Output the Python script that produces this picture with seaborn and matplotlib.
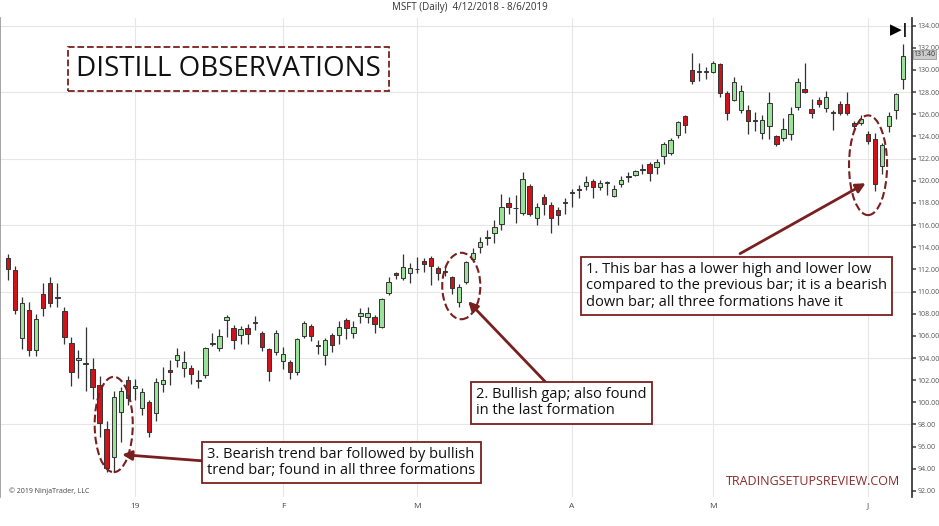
import numpy as np
import pandas as pd
import matplotlib.pyplot as plt
import seaborn as sns
from matplotlib.patches import Ellipse

# MSFT daily candles
opens = [113.0, 111.9, 105.8, 108.3, 104.7, 109.8, 110.8, 109.4, 108.2, 105.4,
         103.8, 103.5, 103.0, 101.6, 97.6, 95.1, 99.1, 102.0, 101.3, 99.5,
         100.0, 99.0, 101.7, 102.9, 103.8, 103.1, 103.1, 101.9, 102.5, 105.3,
         104.9, 107.4, 106.7, 106.1, 106.7, 107.2, 106.3, 104.8, 104.5, 103.7,
         103.6, 102.7, 106.0, 106.9, 105.1, 104.3, 106.1, 106.1, 107.4, 106.3,
         107.8, 107.7, 107.7, 106.8, 109.9, 111.7, 111.2, 111.7, 112.0, 112.8,
         113.0, 112.1, 111.8, 111.3, 109.1, 110.9, 112.9, 114.0, 114.8, 115.3,
         116.1, 118.0, 117.5, 117.1, 119.5, 116.6, 118.5, 117.8, 117.4, 118.0,
         118.9, 119.2, 119.5, 120.0, 119.4, 119.8, 118.6, 119.7, 120.4, 120.5,
         121.0, 121.5, 121.2, 122.2, 122.5, 124.1, 125.8, 130.0, 129.8, 129.8,
         129.8, 130.5, 127.9, 127.3, 126.4, 126.4, 125.4, 124.3, 124.9, 124.0,
         123.9, 124.2, 126.7, 128.3, 126.5, 127.3, 126.6, 126.1, 126.9, 126.9,
         125.2, 125.2, 124.2, 123.8, 121.3, 124.9, 126.4, 129.2]
closes = [112.0, 108.3, 109.0, 104.7, 107.5, 108.5, 109.0, 109.4, 105.9, 102.7,
          104.0, 103.5, 101.4, 98.1, 94.1, 100.5, 101.0, 100.4, 101.5, 100.9,
          97.3, 101.8, 102.0, 102.7, 104.3, 103.6, 102.6, 101.9, 104.9, 105.3,
          106.0, 107.7, 105.6, 106.6, 106.2, 107.2, 105.0, 102.8, 106.3, 104.4,
          102.7, 105.7, 107.2, 106.0, 105.1, 105.6, 105.2, 106.8, 106.7, 106.8,
          108.1, 108.1, 107.1, 109.3, 110.9, 111.5, 112.2, 112.1, 112.0, 112.5,
          112.3, 111.7, 111.8, 110.3, 110.4, 112.7, 113.5, 114.5, 114.8, 115.8,
          117.6, 117.6, 117.5, 120.2, 117.0, 117.6, 117.9, 116.6, 116.9, 118.0,
          118.9, 119.2, 119.9, 119.4, 119.8, 119.8, 119.3, 120.1, 120.3, 120.9,
          121.0, 120.7, 121.7, 123.3, 123.7, 125.3, 125.0, 129.0, 129.8, 129.8,
          130.6, 127.9, 126.1, 128.9, 128.1, 125.4, 125.4, 125.5, 127.0, 123.3,
          124.7, 126.0, 128.9, 128.0, 126.1, 126.9, 127.6, 126.1, 126.1, 126.1,
          124.9, 125.6, 123.6, 119.7, 123.2, 125.8, 127.8, 131.3]
highs = [113.4, 112.3, 109.5, 109.1, 108.0, 110.8, 111.3, 110.8, 108.6, 105.9,
         104.7, 106.8, 104.0, 102.4, 98.3, 101.0, 101.4, 102.4, 102.1, 101.3,
         100.2, 102.2, 103.2, 103.8, 104.9, 104.6, 103.4, 102.9, 105.0, 106.3,
         106.6, 107.9, 107.0, 106.9, 107.1, 107.8, 106.4, 104.9, 106.5, 105.0,
         103.8, 105.8, 107.3, 107.1, 105.6, 105.8, 106.3, 107.3, 107.6, 107.3,
         108.5, 108.6, 107.9, 109.4, 111.3, 111.8, 113.4, 112.6, 113.1, 113.0,
         113.2, 112.3, 112.3, 111.4, 110.7, 112.8, 113.9, 114.9, 115.6, 116.5,
         118.8, 118.5, 118.7, 120.8, 119.7, 118.0, 118.8, 118.1, 117.6, 118.4,
         119.3, 119.6, 120.4, 120.2, 120.1, 120.0, 119.6, 120.4, 120.8, 121.0,
         121.5, 121.7, 122.0, 123.5, 123.9, 125.4, 125.9, 131.5, 130.6, 130.3,
         130.8, 130.6, 128.1, 129.4, 128.6, 126.8, 126.2, 125.9, 128.0, 124.1,
         125.7, 126.7, 129.3, 130.6, 127.4, 127.6, 128.1, 126.4, 127.2, 128.0,
         125.4, 125.9, 124.5, 124.3, 123.4, 126.2, 127.9, 132.3]
lows = [111.0, 108.0, 104.8, 104.2, 104.2, 107.8, 108.6, 108.6, 105.3, 101.5,
        102.2, 101.0, 100.3, 96.9, 93.7, 93.7, 96.4, 99.8, 100.2, 98.9,
        96.9, 98.3, 100.9, 101.6, 103.2, 102.3, 101.7, 101.3, 102.2, 105.1,
        104.6, 105.9, 104.8, 105.3, 105.3, 106.5, 104.6, 101.9, 104.3, 103.0,
        102.1, 102.5, 105.8, 105.5, 104.4, 103.4, 104.5, 105.3, 105.7, 105.8,
        107.2, 107.2, 106.3, 106.7, 109.7, 111.1, 111.0, 110.8, 111.7, 111.8,
        110.6, 111.0, 111.4, 109.8, 108.6, 110.7, 112.7, 113.5, 114.2, 114.4,
        115.6, 117.0, 116.2, 116.9, 116.8, 116.0, 116.9, 115.3, 116.0, 117.0,
        117.6, 118.4, 119.2, 118.4, 119.2, 118.7, 118.5, 119.4, 119.9, 120.4,
        120.6, 120.0, 120.6, 121.5, 122.3, 123.9, 124.3, 128.7, 129.0, 129.2,
        129.7, 127.6, 125.5, 127.2, 126.1, 124.2, 124.5, 123.8, 123.8, 123.1,
        123.6, 123.7, 126.4, 127.9, 125.7, 126.7, 126.2, 124.6, 125.9, 125.9,
        124.5, 125.0, 123.3, 119.1, 120.6, 124.4, 125.6, 128.3]
month_labels = ['19', 'F', 'M', 'A', 'M', 'J']
month_pos = [18, 39, 58, 80, 100, 122]

df = pd.DataFrame({'open': opens, 'close': closes, 'high': highs, 'low': lows})
df['idx'] = np.arange(len(df))
df['up'] = df['close'] >= df['open']

sns.set_theme(style="white")
plt.rcParams['font.family'] = ['Open Sans', 'DejaVu Sans']

fig = plt.figure(figsize=(9.39, 5.26), dpi=100)
ax = fig.add_axes([0.0, 0.055, 0.971, 0.911])

dark = '#7a1f1f'
for v in [98, 104, 110, 116, 122, 128, 134]:
    ax.axhline(v, color='#e6e6e6', lw=0.8, zorder=0)
for p in month_pos:
    ax.axvline(p, color='#e6e6e6', lw=0.8, zorder=0)

# wicks and bodies
ax.vlines(df['idx'], df['low'], df['high'], color='#333333', lw=0.9, zorder=2)
body_lo = df[['open', 'close']].min(axis=1)
body_h = (df['close'] - df['open']).abs().clip(lower=0.08)
colors = np.where(df['up'], '#9be09b', '#d0121b')
ax.bar(df['idx'], body_h, bottom=body_lo, width=0.62, color=colors,
       edgecolor='#333333', linewidth=0.7, zorder=3)

ax.set_xlim(-1.13, 128.2)
ax.set_ylim(91.45, 134.7)
ax.set_xticks(month_pos)
ax.set_xticklabels(month_labels, fontsize=6, color='#444444')
ax.yaxis.tick_right()
ax.set_yticks(np.arange(92, 135, 2))
ax.set_yticklabels([f'{v:.2f}' for v in np.arange(92, 135, 2)], fontsize=5, color='#555555')
ax.tick_params(axis='y', length=3, color='#555555', pad=1)
ax.tick_params(axis='x', length=0, pad=4)
for s in ['top', 'bottom']:
    ax.spines[s].set_visible(False)
ax.spines['left'].set_color('#999999')
ax.spines['right'].set_color('#333333')

# current price marker
ax.text(128.45, 131.4, f'{closes[-1] + 0.1:.2f}', fontsize=5, va='center', ha='left',
        color='#333333', bbox=dict(boxstyle='square,pad=0.12', fc='#cccccc', ec='#888888', lw=0.5),
        clip_on=False, zorder=6)
ax.text(126.6, 133.6, '▶|', fontsize=11, ha='center', va='center', color='black', fontweight='bold')

fig.text(0.5, 0.985, 'MSFT (Daily)  4/12/2018 - 8/6/2019', ha='center', va='center', fontsize=7, color='#333333')

# annotations
ax.text(9.7, 130.1, 'DISTILL OBSERVATIONS', fontsize=20, va='center', ha='left', color='#111111',
        bbox=dict(boxstyle='square,pad=0.3', fc='white', ec=dark, lw=1.3, ls='--'))
box = dict(boxstyle='square,pad=0.35', fc='white', ec=dark, lw=1.3)
ax.text(82.0, 112.7, '1. This bar has a lower high and lower low\ncompared to the previous bar; it is a bearish\ndown bar; all three formations have it',
        fontsize=10.5, va='top', ha='left', color='#111111', bbox=box, zorder=5, linespacing=1.15)
ax.text(66.4, 101.4, '2. Bullish gap; also found\nin the last formation',
        fontsize=10.5, va='top', ha='left', color='#111111', bbox=box, zorder=5, linespacing=1.15)
ax.text(28.3, 96.0, '3. Bearish trend bar followed by bullish\ntrend bar; found in all three formations',
        fontsize=10.5, va='top', ha='left', color='#111111', bbox=box, zorder=5, linespacing=1.15)

for cx, cy, w, h in [(15.0, 98.0, 5.4, 8.6), (64.3, 110.5, 5.4, 6.0), (122.0, 121.4, 5.4, 9.0)]:
    ax.add_patch(Ellipse((cx, cy), w, h, fill=False, ec=dark, lw=1.5, ls='--', zorder=4))

arrow = dict(arrowstyle='-|>', color=dark, lw=2, mutation_scale=14)
ax.annotate('', xy=(122.0, 119.9), xytext=(103.5, 113.3), arrowprops=arrow, zorder=4)
ax.annotate('', xy=(65.0, 109.3), xytext=(76.6, 101.6), arrowprops=arrow, zorder=4)
ax.annotate('', xy=(15.8, 95.3), xytext=(28.0, 94.7), arrowprops=arrow, zorder=4)

ax.text(126.6, 92.9, 'TRADINGSETUPSREVIEW.COM', fontsize=9, ha='right', va='center', color='#8b2a2a')
ax.text(0.2, 92.0, '© 2019 NinjaTrader, LLC', fontsize=5, ha='left', va='center', color='#444444')

fig.savefig('out.png', dpi=100)
